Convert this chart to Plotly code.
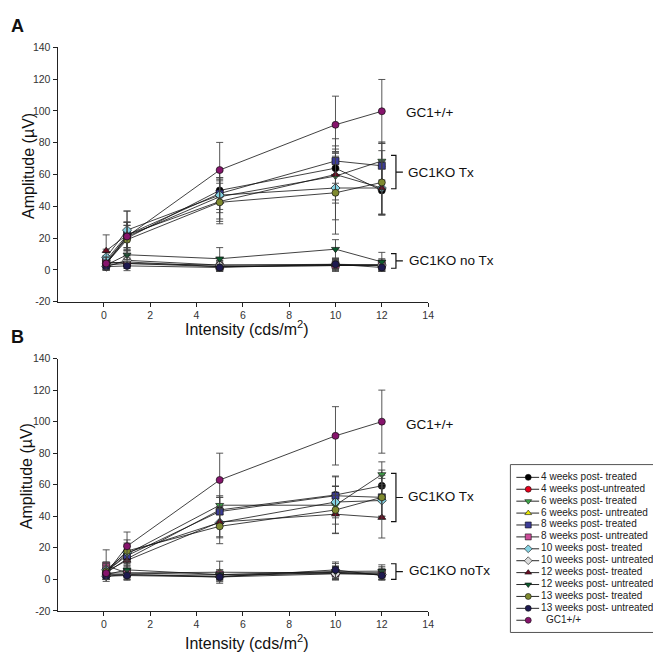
import plotly.graph_objects as go

W, H = 661, 655
FONT = "Arial, Liberation Sans, sans-serif"

intensity = [0.1, 1, 5, 10, 12]

series_names = [
    "4 weeks post- treated", "4 weeks post-untreated",
    "6 weeks post- treated", "6 weeks post- untreated",
    "8 weeks post- treated", "8 weeks post- untreated",
    "10 weeks post- treated", "10 weeks post- untreated",
    "12 weeks post- treated", "12 weeks post- untreated",
    "13 weeks post- treated", "13 weeks post- untreated",
    "GC1+/+",
]
series_colors = ["#000000", "#e8001c", "#3fa84a", "#e8e800", "#3c3c96", "#cc4c99",
                 "#84d2e2", "#dcdcdc", "#6a0c22", "#0b5a2c", "#7f8a30", "#1e1a50", "#86146c"]
series_symbols = ["circle", "circle", "triangle-down", "triangle-up", "square", "square",
                  "diamond", "diamond", "triangle-up", "triangle-down", "circle", "circle", "circle"]

# Panel A values (amplitude, µV) and errors
a_vals = [
    [4, 20, 50, 64, 50],
    [3, 4, 3, 3, 3],
    [5, 21, 46, 59, 68.5],
    [4, 5, 2, 3, 3],
    [6, 22, 48, 68.5, 65.5],
    [5, 4, 2, 3, 3],
    [8, 25, 47, 51.5, 51.5],
    [2, 6, 3, 3.5, 3],
    [12, 22, 43, 60, 51.5],
    [3, 9.5, 7, 13, 5],
    [4, 19, 42.5, 48.5, 55],
    [2, 2.5, 1.5, 3.5, 1.5],
    [4, 21, 62.8, 91.3, 99.8],
]
a_errs = [
    [4, 8, 8, 12, 15],
    [3, 3, 3, 3, 3],
    [4, 9, 10, 15, 12],
    [3, 3, 3, 3, 4],
    [5, 8, 10, 14, 14],
    [3, 3, 3, 4, 3],
    [5, 12, 15, 20, 17],
    [2, 3, 3, 3, 3],
    [10, 8, 14, 18, 17],
    [3, 3, 7, 6, 6],
    [4, 9, 12, 26, 20],
    [2, 3, 2, 4, 2],
    [4, 16, 17.4, 18, 20],
]

# Panel B values and errors
b_vals = [
    [4, 13, 44, 53.5, 59.3],
    [3, 3, 2, 4.5, 3],
    [5, 16, 47, 47, 66.5],
    [4, 4, 4.5, 4, 4],
    [5, 15, 43, 53, 52],
    [8.7, 4, 3, 4, 4],
    [6, 17, 36, 49, 50],
    [2, 3, 1.5, 3.5, 3],
    [5, 12, 36.3, 41.3, 39.2],
    [3, 6, 3, 5, 5.2],
    [5, 18, 33.6, 44, 52],
    [2, 2.4, 1.5, 6, 2.4],
    [3.9, 21, 63, 91, 100],
]
b_errs = [
    [3, 5, 8, 12, 10],
    [3, 3, 3, 4, 3],
    [4, 6, 6, 12, 8],
    [3, 3, 7, 4, 4],
    [4, 6, 9, 12, 12],
    [10, 3, 3, 4, 3],
    [5, 6, 9, 10, 10],
    [2, 3, 3, 4, 3],
    [5, 6, 10, 12, 13],
    [3, 3, 3, 5, 4],
    [4, 7, 11, 15, 14],
    [2, 3, 2, 5, 3],
    [4, 9, 17, 18.5, 20],
]

x_ticks = [0, 2, 4, 6, 8, 10, 12, 14]
y_ticks = [-20, 0, 20, 40, 60, 80, 100, 120, 140]
y_ticktext = ["-20", "0", "20", "40", "60", "80", "100", "120", "140"]


def px(p):
    return p / W


def py(p):
    return 1 - p / H


fig = go.Figure()

for vals, errs, xa, ya in [(a_vals, a_errs, "x", "y"), (b_vals, b_errs, "x2", "y2")]:
    for i in range(len(series_names)):
        fig.add_trace(go.Scatter(
            x=intensity, y=vals[i], xaxis=xa, yaxis=ya,
            mode="lines+markers", showlegend=False,
            line=dict(color="#111111", width=0.8),
            marker=dict(symbol=series_symbols[i], color=series_colors[i], size=7,
                        line=dict(color="#111111", width=0.7)),
            error_y=dict(type="data", array=errs[i], color="#444444", thickness=0.9, width=3.5),
            cliponaxis=False,
        ))

# Manual legend (hidden axis in pixel-like units)
n = len(series_names)
row_y = [13 + 12.13 * i for i in range(n)]
lx, ly = [], []
for i in range(n):
    x1 = 18 if i == n - 1 else 29
    lx += [6, x1, None]
    ly += [row_y[i], row_y[i], None]
fig.add_trace(go.Scatter(x=lx, y=ly, xaxis="x3", yaxis="y3", mode="lines", showlegend=False,
                         line=dict(color="#111111", width=0.9), hoverinfo="skip"))
fig.add_trace(go.Scatter(x=[18] * n, y=row_y, xaxis="x3", yaxis="y3", mode="markers", showlegend=False,
                         marker=dict(symbol=series_symbols, color=series_colors, size=6,
                                     line=dict(color="#111111", width=0.6)), hoverinfo="skip"))
fig.add_trace(go.Scatter(x=[31] * (n - 1) + [36], y=row_y, xaxis="x3", yaxis="y3", mode="text",
                         showlegend=False, text=series_names, textposition="middle right",
                         textfont=dict(family=FONT, size=10, color="#222222"), hoverinfo="skip",
                         cliponaxis=False))

axis_common = dict(showline=True, linecolor="#222222", linewidth=1, ticks="outside", ticklen=4,
                   tickcolor="#222222", showgrid=False, zeroline=False,
                   tickfont=dict(family=FONT, size=10.5, color="#333333"))
xdom = [px(50), px(424)]
fig.update_layout(
    width=W, height=H, margin=dict(l=0, r=0, t=0, b=0),
    paper_bgcolor="white", plot_bgcolor="white", showlegend=False,
    xaxis=dict(domain=xdom, range=[-2, 14], tickvals=x_ticks, anchor="y", **axis_common),
    yaxis=dict(domain=[py(293), py(34)], range=[-20, 140], tickvals=y_ticks, ticktext=y_ticktext,
               anchor="x", **axis_common),
    xaxis2=dict(domain=xdom, range=[-2, 14], tickvals=x_ticks, anchor="y2", **axis_common),
    yaxis2=dict(domain=[py(608), py(351)], range=[-20, 140], tickvals=y_ticks, ticktext=y_ticktext,
                anchor="x2", **axis_common),
    xaxis3=dict(domain=[px(507), px(660)], range=[0, 153], visible=False, anchor="y3"),
    yaxis3=dict(domain=[py(630), py(459)], range=[171, 0], visible=False, anchor="x3"),
)

shapes = [dict(type="rect", xref="paper", yref="paper", x0=px(507), x1=px(660), y0=py(630), y1=py(459),
               line=dict(color="#555555", width=1))]


def bracket(top, bot):
    xv, xa, xt = px(391.5), px(386.5), px(398.5)
    mid = (top + bot) / 2
    path = (f"M {xa},{py(top)} L {xv},{py(top)} L {xv},{py(bot)} L {xa},{py(bot)} "
            f"M {xv},{py(mid)} L {xt},{py(mid)}")
    return dict(type="path", xref="paper", yref="paper", path=path, line=dict(color="#111111", width=1.2))


shapes += [bracket(144, 178), bracket(244, 259), bracket(468, 517), bracket(560, 576)]

annos = []


def txt(t, x, y, size=13.5, **kw):
    annos.append(dict(text=t, x=px(x), y=py(y), xref="paper", yref="paper", showarrow=False,
                      font=dict(family=FONT, size=size, color="#111111"), **kw))


txt("GC1+/+", 400, 100, xanchor="left", yanchor="middle")
txt("GC1KO Tx", 402, 161, xanchor="left", yanchor="middle")
txt("GC1KO no Tx", 403, 251, xanchor="left", yanchor="middle")
txt("GC1+/+", 400, 418, xanchor="left", yanchor="middle")
txt("GC1KO Tx", 402, 492, xanchor="left", yanchor="middle")
txt("GC1KO noTx", 403, 567, xanchor="left", yanchor="middle")
txt("Amplitude (µV)", 20, 155, size=16, textangle=-90, xanchor="center", yanchor="middle")
txt("Amplitude (µV)", 19, 471, size=16, textangle=-90, xanchor="center", yanchor="middle")
txt("Intensity (cds/m<sup>2</sup>)", 241, 320, size=16, xanchor="center", yanchor="middle")
txt("Intensity (cds/m<sup>2</sup>)", 241, 640, size=16, xanchor="center", yanchor="middle")
txt("<b>A</b>", 10, 12, size=18, xanchor="center", yanchor="middle")
txt("<b>B</b>", 10, 329, size=18, xanchor="center", yanchor="middle")

fig.update_layout(shapes=shapes, annotations=annos)
fig.write_html("out.html")
